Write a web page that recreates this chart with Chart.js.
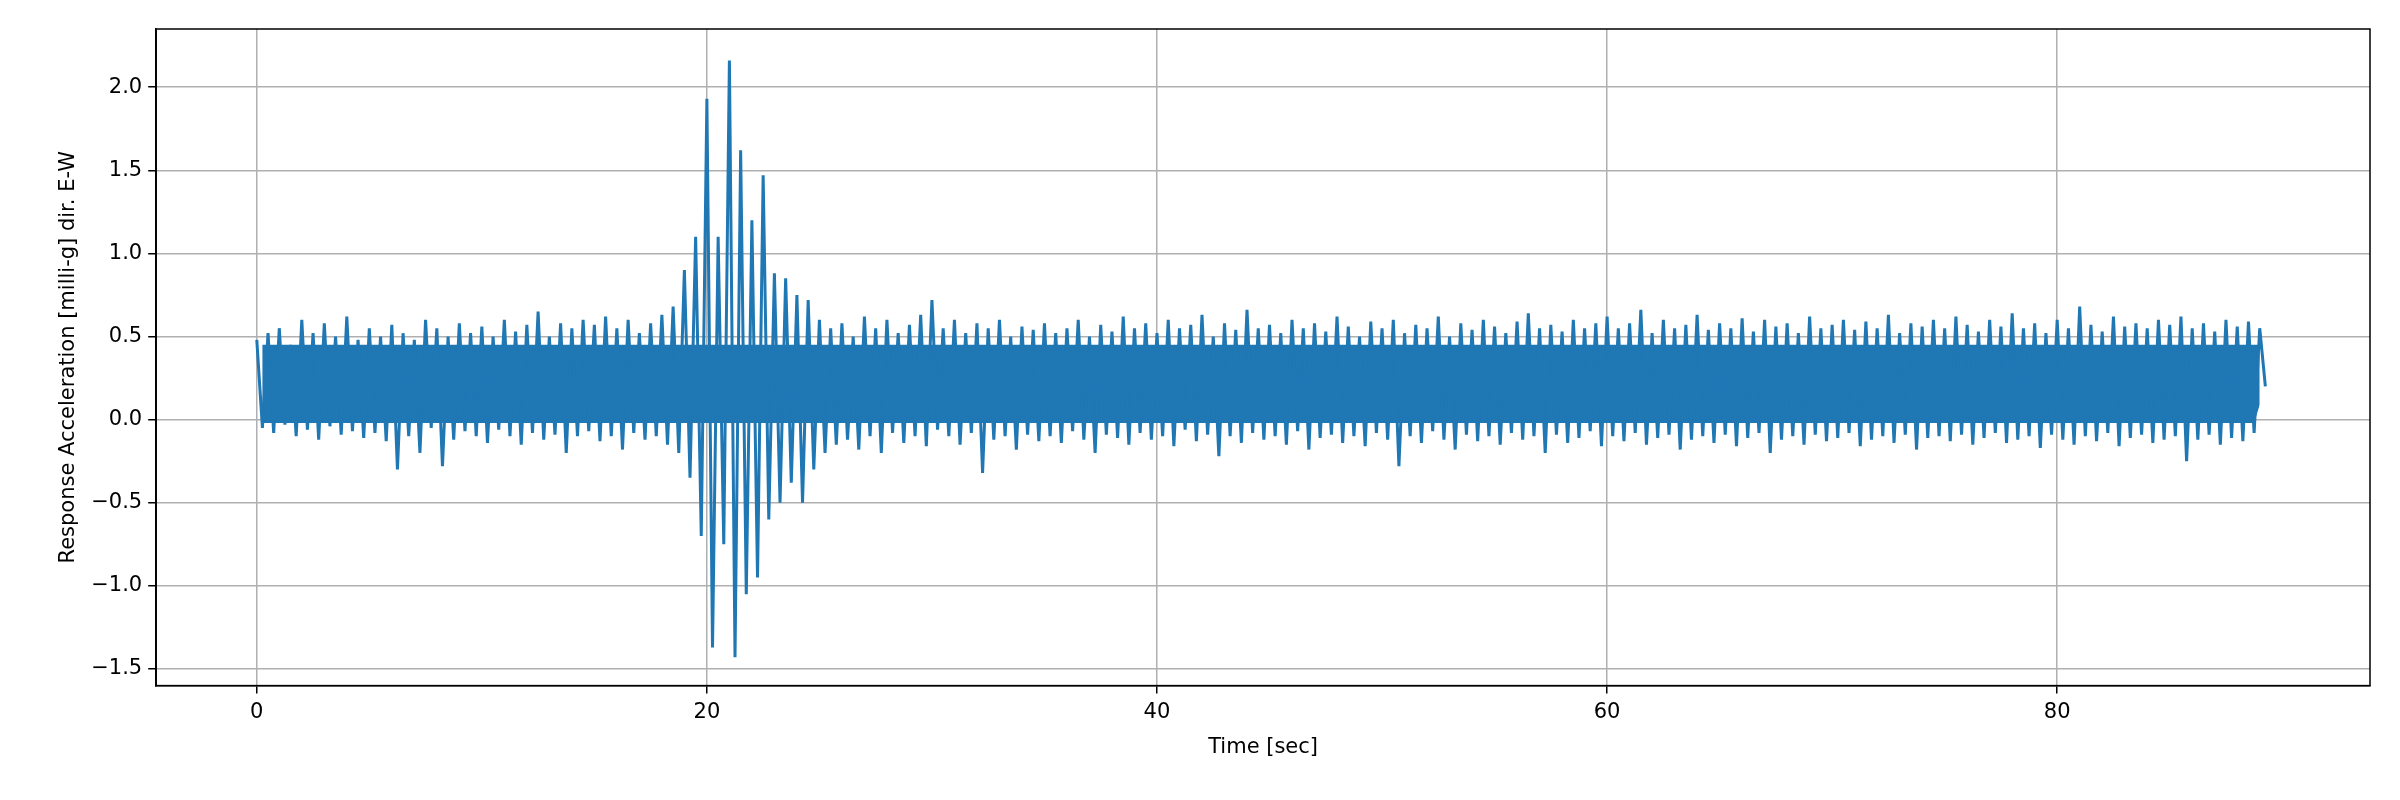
<!DOCTYPE html>
<html>
<head>
<meta charset="utf-8">
<script src="https://cdn.jsdelivr.net/npm/chart.js@4/dist/chart.umd.min.js"></script>
<style>
  body { margin: 0; background: #fff; }
  #wrap { width: 2400px; height: 800px; }
</style>
</head>
<body>
<div id="wrap"><canvas id="c"></canvas></div>
<script>
// サンプル間隔 (sec)
const sampleStep = 0.25;

// 応答加速度 (milli-g) 0.25秒ごと、山と谷を交互に読み取り
const accel = [
  0.48,-0.05,0.52,-0.08,0.55,-0.03,0.45,-0.10,0.60,-0.06,0.52,-0.12,0.58,-0.04,0.50,-0.09,0.62,-0.07,0.48,-0.11,
  0.55,-0.08,0.50,-0.13,0.57,-0.30,0.52,-0.10,0.48,-0.20,0.60,-0.05,0.55,-0.28,0.50,-0.12,0.58,-0.07,0.52,-0.10,
  0.56,-0.14,0.50,-0.06,0.60,-0.10,0.53,-0.15,0.57,-0.08,0.65,-0.12,0.50,-0.09,0.58,-0.20,0.55,-0.10,0.60,-0.07,
  0.57,-0.13,0.62,-0.10,0.55,-0.18,0.60,-0.08,0.52,-0.12,0.58,-0.10,0.63,-0.15,0.68,-0.20,0.90,-0.35,1.10,-0.70,
  1.93,-1.37,1.10,-0.75,2.16,-1.43,1.62,-1.05,1.20,-0.95,1.47,-0.60,0.88,-0.50,0.85,-0.38,0.75,-0.50,0.72,-0.30,
  0.60,-0.20,0.55,-0.15,0.58,-0.12,0.50,-0.18,0.62,-0.10,0.55,-0.20,0.60,-0.08,0.52,-0.14,0.57,-0.10,0.63,-0.16,
  0.72,-0.06,0.55,-0.10,0.60,-0.15,0.52,-0.08,0.58,-0.32,0.55,-0.12,0.60,-0.10,0.50,-0.18,0.56,-0.09,0.54,-0.13,
  0.58,-0.10,0.52,-0.14,0.55,-0.07,0.60,-0.12,0.50,-0.20,0.57,-0.09,0.53,-0.11,0.62,-0.15,0.55,-0.08,0.58,-0.12,
  0.52,-0.10,0.60,-0.16,0.55,-0.06,0.57,-0.13,0.63,-0.09,0.50,-0.22,0.58,-0.10,0.54,-0.14,0.66,-0.08,0.55,-0.12,
  0.57,-0.10,0.52,-0.15,0.60,-0.07,0.55,-0.18,0.58,-0.11,0.53,-0.09,0.62,-0.14,0.56,-0.10,0.50,-0.16,0.59,-0.08,
  0.55,-0.12,0.60,-0.28,0.52,-0.10,0.57,-0.14,0.55,-0.07,0.62,-0.12,0.50,-0.18,0.58,-0.09,0.54,-0.13,0.60,-0.10,
  0.56,-0.15,0.52,-0.08,0.59,-0.12,0.64,-0.10,0.55,-0.20,0.57,-0.09,0.53,-0.14,0.60,-0.11,0.55,-0.07,0.58,-0.16,
  0.62,-0.10,0.55,-0.13,0.58,-0.08,0.66,-0.15,0.52,-0.11,0.60,-0.09,0.55,-0.18,0.57,-0.12,0.63,-0.10,0.54,-0.14,
  0.58,-0.09,0.55,-0.16,0.61,-0.11,0.53,-0.08,0.60,-0.20,0.56,-0.12,0.58,-0.10,0.52,-0.15,0.62,-0.09,0.55,-0.13,
  0.57,-0.11,0.60,-0.08,0.54,-0.16,0.59,-0.12,0.55,-0.10,0.63,-0.14,0.52,-0.09,0.58,-0.18,0.56,-0.11,0.60,-0.10,
  0.55,-0.13,0.62,-0.09,0.57,-0.15,0.53,-0.11,0.60,-0.08,0.56,-0.14,0.64,-0.12,0.55,-0.10,0.58,-0.17,0.52,-0.09,
  0.60,-0.12,0.55,-0.15,0.68,-0.10,0.57,-0.13,0.53,-0.08,0.62,-0.16,0.56,-0.11,0.58,-0.09,0.55,-0.14,0.60,-0.12,
  0.57,-0.10,0.62,-0.25,0.55,-0.12,0.58,-0.09,0.53,-0.15,0.60,-0.11,0.56,-0.13,0.59,-0.08,0.55,0.20
];

// 帯として塗る範囲 (ノイズの中心部、milli-g)
const coreTop = 0.45;
const coreBottom = -0.02;

const xTicks = [0, 20, 40, 60, 80];
const yTicks = [-1.5, -1.0, -0.5, 0.0, 0.5, 1.0, 1.5, 2.0];

const blue = '#1f77b4';
const points = accel.map((v, i) => ({ x: i * sampleStep, y: v }));
// 密な波形の中心部: 山・谷を帯の範囲に切り詰めて間を塗る
const peaks = points.filter((p, i) => i % 2 === 0).map(p => ({ x: p.x, y: Math.min(p.y, coreTop) }));
const troughs = points.filter((p, i) => i % 2 === 1).map(p => ({ x: p.x, y: Math.max(p.y, coreBottom) }));

const fontSpec = { family: 'DejaVu Sans', size: 21 };

// 四辺の枠線
const frame = {
  id: 'frame',
  afterDraw(chart) {
    const a = chart.chartArea, ctx = chart.ctx;
    ctx.save();
    ctx.strokeStyle = '#000';
    ctx.lineWidth = 1.5;
    ctx.strokeRect(a.left, a.top, a.right - a.left, a.bottom - a.top);
    ctx.restore();
  }
};

new Chart(document.getElementById('c'), {
  type: 'line',
  data: {
    datasets: [
      { data: points, borderColor: blue, borderWidth: 3, pointRadius: 0, tension: 0, order: 0 },
      { data: peaks, borderColor: blue, borderWidth: 0, pointRadius: 0, tension: 0,
        fill: '+1', backgroundColor: blue, order: 1 },
      { data: troughs, borderColor: blue, borderWidth: 0, pointRadius: 0, tension: 0, order: 1 }
    ]
  },
  plugins: [frame],
  options: {
    responsive: true,
    maintainAspectRatio: false,
    animation: false,
    layout: { padding: { top: 29, right: 30, left: 52, bottom: 36 } },
    plugins: { legend: { display: false }, tooltip: { enabled: false } },
    scales: {
      x: {
        type: 'linear',
        min: -4.47, max: 93.9,
        afterBuildTicks: s => { s.ticks = xTicks.map(v => ({ value: v })); },
        ticks: { font: fontSpec, color: '#000', padding: 6 },
        grid: { color: '#b0b0b0', lineWidth: 1.5, tickLength: 8, tickColor: '#000' },
        border: { color: '#000', width: 1.5 },
        title: { display: true, text: 'Time [sec]', font: fontSpec, color: '#000', padding: { top: 4 } }
      },
      y: {
        min: -1.60, max: 2.35,
        afterBuildTicks: s => { s.ticks = yTicks.map(v => ({ value: v })); },
        ticks: {
          font: fontSpec, color: '#000', padding: 6,
          callback: v => (v < 0 ? '\u2212' : '') + Math.abs(v).toFixed(1)
        },
        grid: { color: '#b0b0b0', lineWidth: 1.5, tickLength: 8, tickColor: '#000' },
        border: { color: '#000', width: 1.5 },
        title: { display: true, text: 'Response Acceleration [milli-g] dir. E-W', font: fontSpec, color: '#000' }
      }
    }
  }
});
</script>
</body>
</html>
